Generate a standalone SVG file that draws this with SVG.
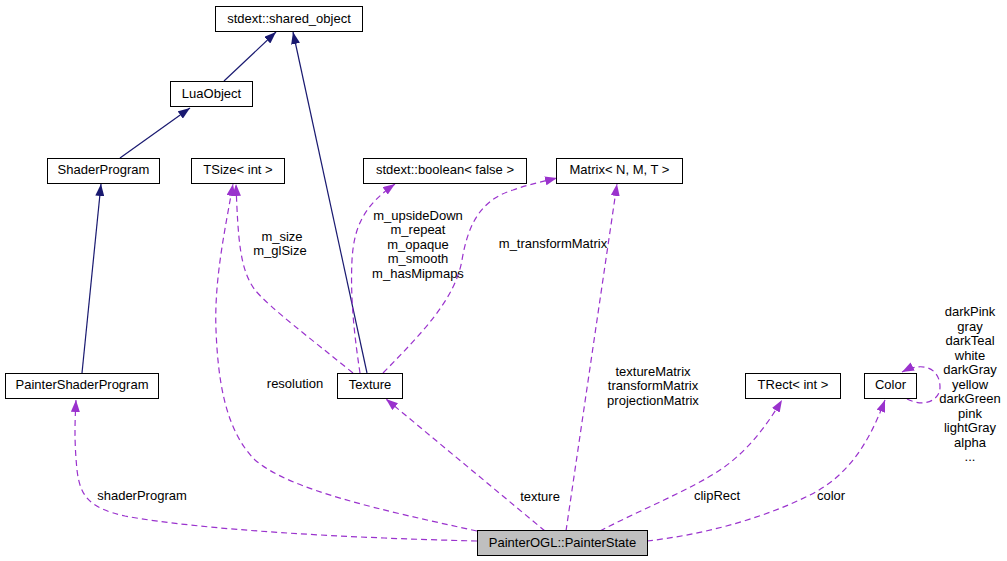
<svg xmlns="http://www.w3.org/2000/svg" width="1007" height="561" viewBox="0 0 1007 561">
<style>
.n rect{fill:#fff;stroke:#000;stroke-width:1}
.n.g rect{fill:#bfbfbf}
text{font-family:"Liberation Sans",Arial,sans-serif;font-size:13px;fill:#000}
.n text,.c{text-anchor:middle}
.inh{fill:none;stroke:#191970;stroke-width:1.2;marker-end:url(#an)}
.use{fill:none;stroke:#9a32cd;stroke-width:1.2;stroke-dasharray:6,4;marker-end:url(#ap)}
</style>
<defs>
<marker id="an" viewBox="0 0 12 9" markerWidth="12" markerHeight="9" refX="12" refY="4.5" orient="auto" markerUnits="userSpaceOnUse"><path d="M0,0 L12,4.5 L0,9 z" fill="#191970"/></marker>
<marker id="ap" viewBox="0 0 12 9" markerWidth="12" markerHeight="9" refX="12" refY="4.5" orient="auto" markerUnits="userSpaceOnUse"><path d="M0,0 L12,4.5 L0,9 z" fill="#9a32cd"/></marker>
</defs>
<rect width="1007" height="561" fill="#fff"/>
<g id="connectors">
<path class="inh" d="M224,81 L276,32"/>
<path class="inh" d="M367,373 L293,32"/>
<path class="inh" d="M120,158 L190,108"/>
<path class="inh" d="M82,373 L101,184"/>
<path class="use" d="M477,541 C350,538 200,530 125,516 C88,508 80,495 77,470 C74,440 75,420 76,400"/>
<path class="use" d="M477,531 C380,510 290,490 255,460 C225,430 218,380 216,330 C214,280 225,230 233,184"/>
<path class="use" d="M353,373 C310,338 270,308 255,290 C240,270 238,240 236,184"/>
<path class="use" d="M360,373 C355,340 350,300 352,260 C354,225 365,205 395,184"/>
<path class="use" d="M383,373 C420,335 455,300 462,260 C468,225 480,200 513,190 C530,184 545,181 557,178"/>
<path class="use" d="M566,531 L617,184"/>
<path class="use" d="M545,531 L386,399"/>
<path class="use" d="M600,531 C640,510 690,490 720,470 C750,450 770,420 782,400"/>
<path class="use" d="M647,541 C700,535 760,520 810,495 C850,475 870,440 885,400"/>
<path class="use" d="M907,399 C925,408 940,400 940,387 C940,370 925,360 902,372"/>
<text class="c" x="142" y="500">shaderProgram</text>
<text class="c" x="295" y="388">resolution</text>
<text class="c" x="282" y="241">m_size</text>
<text class="c" x="280" y="255">m_glSize</text>
<text class="c" x="418" y="219.5">m_upsideDown</text>
<text class="c" x="418" y="234">m_repeat</text>
<text class="c" x="418" y="248.5">m_opaque</text>
<text class="c" x="418" y="263">m_smooth</text>
<text class="c" x="418" y="277.5">m_hasMipmaps</text>
<text class="c" x="553" y="248">m_transformMatrix</text>
<text class="c" x="653" y="375.5">textureMatrix</text>
<text class="c" x="653" y="390">transformMatrix</text>
<text class="c" x="653" y="404.5">projectionMatrix</text>
<text class="c" x="540" y="501">texture</text>
<text class="c" x="717" y="500">clipRect</text>
<text class="c" x="831" y="500">color</text>
<text class="c" x="970" y="316">darkPink</text>
<text class="c" x="970" y="330.5">gray</text>
<text class="c" x="970" y="345">darkTeal</text>
<text class="c" x="970" y="359.5">white</text>
<text class="c" x="970" y="374">darkGray</text>
<text class="c" x="970" y="388.5">yellow</text>
<text class="c" x="970" y="403">darkGreen</text>
<text class="c" x="970" y="417.5">pink</text>
<text class="c" x="970" y="432">lightGray</text>
<text class="c" x="970" y="446.5">alpha</text>
<text class="c" x="970" y="461">...</text>
</g>
<g id="shared_object" class="n"><rect x="215.5" y="6.5" width="147" height="25"/><text x="289" y="22.5">stdext::shared_object</text></g>
<g id="LuaObject" class="n"><rect x="170.5" y="81.5" width="82" height="25"/><text x="211.5" y="98">LuaObject</text></g>
<g id="ShaderProgram" class="n"><rect x="47.5" y="158.5" width="112" height="25"/><text x="103.5" y="174">ShaderProgram</text></g>
<g id="TSize" class="n"><rect x="191.5" y="158.5" width="93" height="25"/><text x="238" y="174">TSize&lt; int &gt;</text></g>
<g id="boolean" class="n"><rect x="363.5" y="158.5" width="163" height="25"/><text x="445" y="174">stdext::boolean&lt; false &gt;</text></g>
<g id="Matrix" class="n"><rect x="556.5" y="158.5" width="126" height="25"/><text x="619.5" y="174">Matrix&lt; N, M, T &gt;</text></g>
<g id="PainterShaderProgram" class="n"><rect x="5.5" y="373.5" width="153" height="25"/><text x="82" y="389">PainterShaderProgram</text></g>
<g id="Texture" class="n"><rect x="337.5" y="373.5" width="65" height="25"/><text x="370" y="389">Texture</text></g>
<g id="TRect" class="n"><rect x="745.5" y="373.5" width="95" height="25"/><text x="793" y="389">TRect&lt; int &gt;</text></g>
<g id="Color" class="n"><rect x="864.5" y="373.5" width="52" height="25"/><text x="890.5" y="389">Color</text></g>
<g id="PainterState" class="n g"><rect x="477.5" y="530.5" width="170" height="25"/><text x="562.5" y="546.5">PainterOGL::PainterState</text></g>
</svg>
